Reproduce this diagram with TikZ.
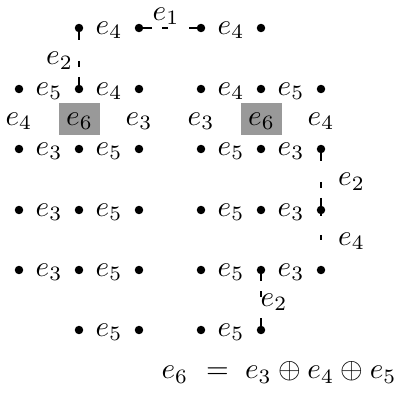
\documentclass[tikz,border=0pt]{standalone}
\begin{document}
\begin{tikzpicture}[x=0.3425pt,y=-0.3425pt,
  dot/.style={circle,fill=black,inner sep=0pt,minimum size=2.9pt},
  lab/.style={inner sep=0pt,anchor=mid},
  cell/.style={fill=black!40,inner sep=0pt,minimum width=14pt,minimum height=11pt},
  link/.style={line width=0.6pt,dash pattern=on 4.1pt off 7.2pt on 2.05pt off 3.4pt},
  shortlink/.style={line width=0.6pt,dash pattern=on 2.05pt off 6.5pt on 1.7pt off 20pt}]
\useasboundingbox (0,0) rectangle (395,394);
% dots
\foreach \c/\x in {1/19,2/79,3/139,4/201,5/261,6/321}
  \foreach \r/\y in {2/89,3/149,4/210,5/270}
    \node[dot] (d\c\r) at (\x,\y) {};
\foreach \c/\x in {2/79,3/139,4/201,5/261} {
  \node[dot] (d\c1) at (\x,28) {};
  \node[dot] (d\c6) at (\x,330) {};
}
% connectors
\draw[link] (d41.center) -- (d31.center);
\draw[link] (d21.center) -- (d22.center);
\draw[link] (d63.center) -- (d64.center);
\coordinate (c1) at (321,240);
\draw[shortlink] (d64.center) -- (c1);
\draw[link] (d56.center) -- (d55.center);
% connector labels
\node[lab] (l1) at (166,14) {$e_1$};
\node[lab] (l2) at (59.5,58.5) {$e_2$};
\node[lab] (l3) at (351.5,179.5) {$e_2$};
\node[lab] (l4) at (351.5,239) {$e_4$};
\node[lab] (l5) at (274,300) {$e_2$};
% row labels
\node[lab] (r11) at (109,28) {$e_4$};
\node[lab] (r12) at (231,28) {$e_4$};
\node[lab] (r21) at (49,89) {$e_5$};
\node[lab] (r22) at (109,89) {$e_4$};
\node[lab] (r23) at (231,89) {$e_4$};
\node[lab] (r24) at (291,89) {$e_5$};
\foreach \r/\y in {3/149,4/210,5/270} {
  \node[lab] (r\r1) at (49,\y) {$e_3$};
  \node[lab] (r\r2) at (109,\y) {$e_5$};
  \node[lab] (r\r3) at (231,\y) {$e_5$};
  \node[lab] (r\r4) at (291,\y) {$e_3$};
}
\node[lab] (r61) at (109,330) {$e_5$};
\node[lab] (r62) at (231,330) {$e_5$};
% middle row
\node[lab] (m1) at (19,119) {$e_4$};
\node[cell] (b1) at (79.5,119) {};
\node[lab] (m2) at (b1.center) {$e_6$};
\node[lab] (m3) at (139,119) {$e_3$};
\node[lab] (m4) at (201,119) {$e_3$};
\node[cell] (b2) at (261.5,119) {};
\node[lab] (m5) at (b2.center) {$e_6$};
\node[lab] (m6) at (321,119) {$e_4$};
% equation
\node[lab,anchor=mid west] (eq) at (161,372.5) {$e_6\mkern6mu=\mkern5mu e_3\oplus e_4\oplus e_5$};
\end{tikzpicture}
\end{document}
